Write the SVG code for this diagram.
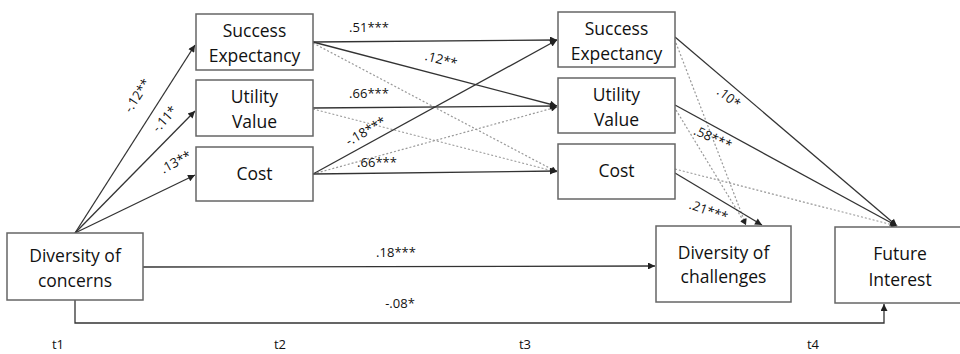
<svg xmlns="http://www.w3.org/2000/svg" width="960" height="354" viewBox="0 0 960 354">
  <defs>
    <marker id="ah" viewBox="0 0 10 10" refX="10" refY="5" markerWidth="9" markerHeight="7" markerUnits="userSpaceOnUse" orient="auto">
      <path d="M0,0 L10,5 L0,10 z" fill="#222"/>
    </marker>
    <marker id="ahs" viewBox="0 0 10 10" refX="10" refY="5" markerWidth="8" markerHeight="6" markerUnits="userSpaceOnUse" orient="auto">
      <path d="M0,0 L10,5 L0,10 z" fill="#222"/>
    </marker>
  </defs>
  <style>
    .box { fill: #fff; stroke: #666; stroke-width: 1.5; }
    .lbl { font-family: "Open Sans", "Liberation Sans", sans-serif; font-size: 17.5px; fill: #111; text-anchor: middle; }
    .coef { font-family: "Open Sans", "Liberation Sans", sans-serif; font-size: 13px; fill: #111; text-anchor: middle; }
    .time { font-family: "Open Sans", "Liberation Sans", sans-serif; font-size: 13px; fill: #111; text-anchor: middle; }
    .sol { fill: none; stroke: #333; stroke-width: 1.3; marker-end: url(#ah); }
    .dot { fill: none; stroke: #999; stroke-width: 1.2; stroke-dasharray: 2 2; marker-end: url(#ahs); }
  </style>
  <rect width="960" height="354" fill="#fff"/>

  <!-- connectors -->
  <g id="connectors">
    <!-- t1 to t2 -->
    <line class="sol" x1="75" y1="233" x2="195" y2="45"/>
    <line class="sol" x1="75" y1="233" x2="195" y2="111"/>
    <line class="sol" x1="75" y1="233" x2="195" y2="175"/>
    <!-- t2 to t3 -->
    <line class="sol" x1="313" y1="42" x2="557" y2="40"/>
    <line class="sol" x1="313" y1="42" x2="557" y2="106"/>
    <line class="dot" x1="313" y1="43" x2="557" y2="172"/>
    <line class="sol" x1="313" y1="108" x2="557" y2="106"/>
    <line class="dot" x1="313" y1="109" x2="557" y2="172"/>
    <line class="sol" x1="313" y1="174" x2="557" y2="40"/>
    <line class="dot" x1="313" y1="174" x2="557" y2="107"/>
    <line class="sol" x1="313" y1="174" x2="557" y2="171"/>
    <!-- t3 to outcomes -->
    <line class="sol" x1="675" y1="37" x2="897" y2="226"/>
    <line class="dot" x1="676" y1="43" x2="746" y2="225"/>
    <line class="sol" x1="675" y1="105" x2="897" y2="226"/>
    <line class="dot" x1="676" y1="110" x2="746" y2="225"/>
    <line class="dot" x1="675" y1="169" x2="897" y2="226"/>
    <line class="sol" x1="675" y1="173" x2="762" y2="225"/>
    <!-- direct paths -->
    <line class="sol" x1="143" y1="267" x2="655" y2="266"/>
    <polyline class="sol" points="75,300 75,323 884,323 884,304"/>
  </g>

  <!-- path coefficients -->
  <g id="coefficients">
    <text class="coef" transform="translate(141,98) rotate(-57)">-.12**</text>
    <text class="coef" transform="translate(168,122) rotate(-48)">-.11*</text>
    <text class="coef" transform="translate(178,166) rotate(-28)">.13**</text>
    <text class="coef" x="369" y="32">.51***</text>
    <text class="coef" transform="translate(440,64) rotate(15)">.12**</text>
    <text class="coef" x="369" y="98">.66***</text>
    <text class="coef" transform="translate(368,135) rotate(-30)">-.18***</text>
    <text class="coef" x="377" y="167">.66***</text>
    <text class="coef" transform="translate(726,101) rotate(38)">.10*</text>
    <text class="coef" transform="translate(711,142) rotate(24)">.58***</text>
    <text class="coef" transform="translate(707,215) rotate(20)">.21***</text>
    <text class="coef" x="396" y="257">.18***</text>
    <text class="coef" x="400" y="308">-.08*</text>
  </g>

  <!-- t1 -->
  <g id="diversity-concerns">
    <rect class="box" x="7" y="233" width="136" height="67"/>
    <text class="lbl" x="75" y="262">Diversity of</text>
    <text class="lbl" x="75" y="287">concerns</text>
  </g>

  <!-- t2 -->
  <g id="success-t2">
    <rect class="box" x="196" y="14" width="117" height="56"/>
    <text class="lbl" x="254.5" y="37">Success</text>
    <text class="lbl" x="254.5" y="62">Expectancy</text>
  </g>
  <g id="utility-t2">
    <rect class="box" x="196" y="80" width="117" height="56"/>
    <text class="lbl" x="254.5" y="103">Utility</text>
    <text class="lbl" x="254.5" y="128">Value</text>
  </g>
  <g id="cost-t2">
    <rect class="box" x="196" y="147" width="117" height="54"/>
    <text class="lbl" x="254.5" y="180">Cost</text>
  </g>

  <!-- t3 -->
  <g id="success-t3">
    <rect class="box" x="558" y="12" width="117" height="55"/>
    <text class="lbl" x="616.5" y="35">Success</text>
    <text class="lbl" x="616.5" y="60">Expectancy</text>
  </g>
  <g id="utility-t3">
    <rect class="box" x="558" y="78" width="117" height="55"/>
    <text class="lbl" x="616.5" y="101">Utility</text>
    <text class="lbl" x="616.5" y="126">Value</text>
  </g>
  <g id="cost-t3">
    <rect class="box" x="558" y="144" width="117" height="55"/>
    <text class="lbl" x="616.5" y="177">Cost</text>
  </g>

  <!-- outcomes -->
  <g id="diversity-challenges">
    <rect class="box" x="656" y="226" width="135" height="76"/>
    <text class="lbl" x="723.5" y="259">Diversity of</text>
    <text class="lbl" x="723.5" y="283">challenges</text>
  </g>
  <g id="future-interest">
    <rect class="box" x="835" y="227" width="132" height="76"/>
    <text class="lbl" x="900" y="260">Future</text>
    <text class="lbl" x="900" y="286">Interest</text>
  </g>

  <!-- time points -->
  <g id="time-axis">
    <text class="time" x="58" y="349">t1</text>
    <text class="time" x="280" y="349">t2</text>
    <text class="time" x="525" y="349">t3</text>
    <text class="time" x="813" y="349">t4</text>
  </g>
</svg>
